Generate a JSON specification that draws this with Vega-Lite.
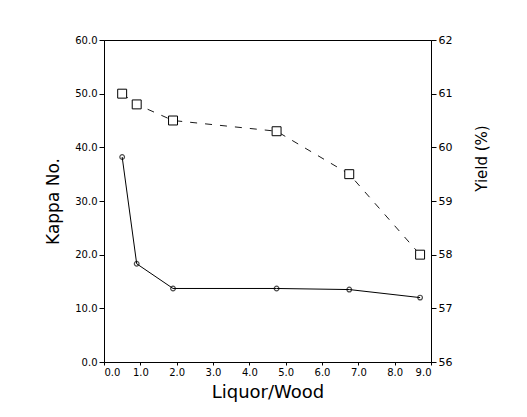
{
  "$schema": "https://vega.github.io/schema/vega-lite/v6.json",
  "autosize": {"type": "none"},
  "width": 327,
  "height": 322,
  "padding": {"left": 104, "top": 40, "right": 96, "bottom": 55},
  "background": "white",
  "config": {
    "view": {"stroke": "black", "strokeWidth": 1},
    "font": "DejaVu Sans",
    "axis": {
      "domainColor": "black",
      "tickColor": "black",
      "labelColor": "black",
      "titleColor": "black",
      "grid": false,
      "labelFont": "DejaVu Sans",
      "titleFont": "DejaVu Sans",
      "labelFontSize": 10,
      "titleFontWeight": "normal",
      "tickSize": 5,
      "labelPadding": 2
    }
  },
  "data": {
    "values": [
      {"ratio": 0.5, "kappa": 38.2, "yield": 61.0},
      {"ratio": 0.9, "kappa": 18.3, "yield": 60.8},
      {"ratio": 1.9, "kappa": 13.7, "yield": 60.5},
      {"ratio": 4.75, "kappa": 13.7, "yield": 60.3},
      {"ratio": 6.75, "kappa": 13.5, "yield": 59.5},
      {"ratio": 8.7, "kappa": 12.0, "yield": 58.0}
    ]
  },
  "encoding": {
    "x": {
      "field": "ratio",
      "type": "quantitative",
      "scale": {"domain": [0, 9], "nice": false, "zero": false},
      "axis": {
        "title": "Liquor/Wood",
        "titleFontSize": 18,
        "titlePadding": 6,
        "values": [0, 1, 2, 3, 4, 5, 6, 7, 8, 9],
        "format": ".1f",
        "tickSize": 3
      }
    }
  },
  "layer": [
    {
      "layer": [
        {
          "mark": {"type": "line", "color": "black", "strokeWidth": 1},
          "encoding": {
            "y": {
              "field": "kappa",
              "type": "quantitative",
              "scale": {"domain": [0, 60], "nice": false},
              "axis": {
                "title": "Kappa No.",
                "titleFontSize": 17,
                "titlePadding": 12,
                "values": [0, 10, 20, 30, 40, 50, 60],
                "format": ".1f",
                "orient": "left"
              }
            }
          }
        },
        {
          "mark": {"type": "point", "shape": "circle", "size": 22, "color": "black", "filled": false, "strokeWidth": 1.2},
          "encoding": {
            "y": {"field": "kappa", "type": "quantitative"}
          }
        }
      ]
    },
    {
      "layer": [
        {
          "mark": {"type": "line", "color": "black", "strokeWidth": 0.9, "strokeDash": [7, 8]},
          "encoding": {
            "y": {
              "field": "yield",
              "type": "quantitative",
              "scale": {"domain": [56, 62], "nice": false, "zero": false},
              "axis": {
                "title": "Yield (%)",
                "titleFontSize": 15,
                "titleAngle": -90,
                "titlePadding": 38,
                "titleY": 118,
                "values": [56, 57, 58, 59, 60, 61, 62],
                "format": "d",
                "orient": "right",
                "labelFontSize": 11
              }
            }
          }
        },
        {
          "mark": {"type": "point", "shape": "square", "size": 80, "color": "black", "filled": false, "fill": "white", "fillOpacity": 1, "strokeWidth": 1},
          "encoding": {
            "y": {"field": "yield", "type": "quantitative"}
          }
        }
      ]
    }
  ],
  "resolve": {"scale": {"y": "independent"}}
}
